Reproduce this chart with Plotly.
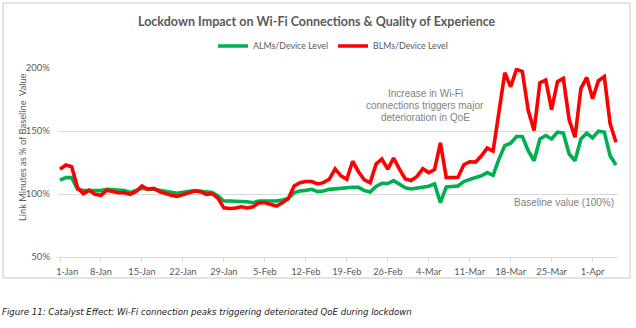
import pandas as pd
import plotly.graph_objects as go

# ---- data ----
start_date = "2020-01-01"
n_days = 96
dates = pd.date_range(start_date, periods=n_days, freq="D")

alms = [111, 113, 113, 103.7, 102.7, 102.7, 102, 102.7, 103.7, 103.4,
        102.9, 102.7, 101.3, 102.7, 104.5, 103.9, 103.9, 103, 102, 101.3,
        100.5, 101.3, 102, 102.7, 102.2, 101.6, 101.1, 98.4, 94.4, 94.4,
        94.4, 94.4, 93.9, 93.1, 94.4, 94.4, 94.4, 94.4, 95.2, 96.5,
        101.1, 102.4, 102.9, 103.7, 101.9, 102.4, 103.7, 104.2, 104.3, 104.5,
        105.3, 105.3, 102.7, 101.6, 106, 108.4, 108.3, 110.6, 107.7, 105,
        104, 104.5, 105.3, 106.2, 108, 93.1, 105.6, 105.9, 106.4, 109.9,
        111.7, 113.1, 114.5, 117, 114.8, 127.7, 138.4, 140.3, 145.6, 145.6,
        134.4, 126.4, 143.7, 146.4, 143.7, 149.1, 148.3, 131.7, 126.4, 143.7,
        148.3, 144.5, 149.9, 149.1, 130.4, 123.0]

blms = [119.7, 123, 121.6, 105, 100.3, 103, 99.7, 99, 103, 101.9,
        101, 101, 99.7, 102, 106.4, 103.7, 104.5, 101.9, 100.3, 99,
        98.1, 99.7, 100.8, 102.4, 101.9, 99.7, 100.3, 96.5, 89, 88.5,
        88.9, 89.9, 88.9, 89.9, 93, 93, 91.7, 90.4, 93, 96.3,
        106.4, 109, 109.9, 109.9, 108, 109, 111.7, 120, 114.4, 111.7,
        126, 117.7, 111.3, 109, 123.7, 127.7, 119.7, 128.4, 119.7, 112,
        110.7, 114, 120.1, 117, 119.4, 140.6, 113, 113, 113.3, 123.2,
        125.6, 125.3, 130.3, 136.4, 134.1, 165, 196.3, 185.1, 198.9, 197.1,
        166.4, 150.4, 188.3, 190.4, 166.9, 189.1, 191.7, 158.9, 145.1, 183.7,
        192.5, 175.6, 189.9, 193.1, 155.7, 141.1]

series_names = ["ALMs/Device Level", "BLMs/Device Level"]
series_colors = ["#00B050", "#FF0000"]
y_ticks = [50, 100, 150, 200]
y_tick_labels = ["50%", "100%", "150%", "200%"]
x_tick_dates = pd.date_range(start_date, periods=14, freq="7D")
x_tick_labels = ["1-Jan", "8-Jan", "15-Jan", "22-Jan", "29-Jan", "5-Feb", "12-Feb",
                 "19-Feb", "26-Feb", "4-Mar", "11-Mar", "18-Mar", "25-Mar", "1-Apr"]

title_text = "Lockdown Impact on Wi-Fi Connections & Quality of Experience"
y_title = "Link Minutes as % of Baseline  Value"
note_lines = ["Increase in Wi-Fi", "connections triggers major", "deterioration in QoE"]
baseline_text = "Baseline value (100%)"
caption = "Figure 11: Catalyst Effect: Wi-Fi connection peaks triggering deteriorated QoE during lockdown"

# ---- layout geometry (pixels) ----
W, H = 636, 328
L, R, T, B = 58, 618, 68, 257
pw, ph = R - L, B - T


def px(x):
    return (x - L) / pw


def py(y):
    return (B - y) / ph


day_px = (616 - 60) / (n_days - 1)
pad_left = pd.Timedelta(days=(60 - L) / day_px)
pad_right = pd.Timedelta(days=(R - 616) / day_px)
x_range = [dates[0] - pad_left, dates[-1] + pad_right]

fig = go.Figure()
for vals, name, col in zip([alms, blms], series_names, series_colors):
    fig.add_trace(go.Scatter(x=dates, y=vals, mode="lines", name=name,
                             line=dict(color=col, width=3.6)))

grey = "#595959"
shown_labels = ["\u00a0" * 6 + x_tick_labels[0]] + x_tick_labels[1:]
fig.update_layout(
    width=W, height=H,
    margin=dict(l=L, r=W - R, t=T, b=H - B),
    paper_bgcolor="white", plot_bgcolor="white",
    showlegend=True,
    legend=dict(orientation="h", x=px(333), xanchor="center", y=py(46), yanchor="middle",
                font=dict(family="Lato", size=8.8, color=grey),
                itemwidth=30, tracegroupgap=0, bgcolor="rgba(0,0,0,0)"),
    font=dict(family="Lato", color=grey),
)
fig.update_xaxes(range=x_range, type="date", tickvals=x_tick_dates, ticktext=shown_labels,
                 showgrid=False, showline=True, linecolor="#d9d9d9",
                 linewidth=1, ticks="outside", ticklen=4, tickcolor="#d9d9d9",
                 tickfont=dict(family="Lato", size=9.3, color=grey), ticklabelstandoff=2)
fig.update_yaxes(range=[50, 200], tickvals=y_ticks, ticktext=y_tick_labels,
                 showgrid=True, gridcolor="#d9d9d9", gridwidth=1, zeroline=False,
                 showline=False, ticks="", tickfont=dict(family="Lato", size=9.5, color=grey),
                 ticklabelstandoff=7)

ann = [
    dict(text="<b>" + title_text + "</b>", x=px(317), y=py(22), font=dict(family="Lato", size=12.5, color=grey)),
    dict(text=y_title, x=px(22), y=py(147), textangle=-90, font=dict(family="Lato", size=9.3, color=grey)),
    dict(text=baseline_text, x=px(616), y=py(202), xanchor="right", font=dict(family="Liberation Sans", size=10, color="#7f7f7f")),
    dict(text=caption, x=px(0), y=py(312), xanchor="left", font=dict(family="DejaVu Sans", size=8.6, color="#1a1a1a", style="italic")),
]
for i, line in enumerate(note_lines):
    ann.append(dict(text=line, x=px(425), y=py(93 + 12 * i), font=dict(family="Liberation Sans", size=10, color="#7f7f7f")))
for a in ann:
    a.setdefault("xanchor", "center")
    a.update(xref="paper", yref="paper", showarrow=False, yanchor="middle")
    fig.add_annotation(**a)

fig.add_shape(type="rect", xref="paper", yref="paper", x0=px(3), x1=px(630), y0=py(278), y1=py(3),
              line=dict(color="#c8c8c8", width=1), layer="below")

fig.write_html("out.html")
